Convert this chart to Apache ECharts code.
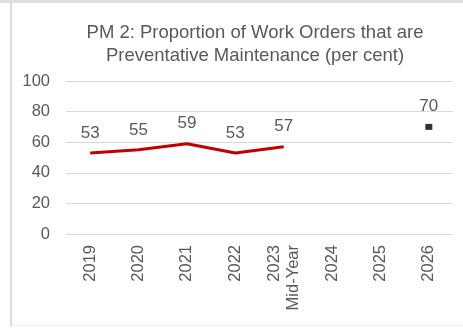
<!DOCTYPE html>
<html>
<head>
<meta charset="utf-8">
<style>
  html, body { margin: 0; padding: 0; background: #fff; }
  #chart { width: 463px; height: 330px; }
</style>
<script src="https://cdn.jsdelivr.net/npm/echarts@6/dist/echarts.min.js"></script>
</head>
<body>
<div id="chart"></div>
<script>
// PM 2 – share of work orders that are preventative maintenance
const categories = ['2019', '2020', '2021', '2022', '2023\nMid-Year', '2024', '2025', '2026'];
const actualValues = [53, 55, 59, 53, 57, null, null, null];
const targetValues = [null, null, null, null, null, null, null, 70];
const yTicks = { min: 0, max: 100, interval: 20 };

const chart = echarts.init(document.getElementById('chart'), null, { renderer: 'canvas' });

const FONT = 'Liberation Sans, Arial, sans-serif';
const labelStyle = {
  show: true,
  position: 'top',
  distance: 11,
  color: '#595959',
  fontFamily: FONT,
  fontSize: 17
};

chart.setOption({
  animation: false,
  backgroundColor: '#fff',
  title: {
    text: 'PM 2: Proportion of Work Orders that are\nPreventative Maintenance (per cent)',
    left: 250,
    top: 16,
    textAlign: 'center',
    textStyle: {
      color: '#595959',
      fontFamily: FONT,
      fontSize: 18.5,
      fontWeight: 'normal',
      lineHeight: 23
    }
  },
  graphic: [
    { type: 'rect', shape: { x: 0, y: 0, width: 463, height: 3 }, style: { fill: '#dedede' }, silent: true },
    { type: 'rect', shape: { x: 10, y: 3, width: 2, height: 323 }, style: { fill: '#dcdcdc' }, silent: true },
    { type: 'rect', shape: { x: 12, y: 325, width: 451, height: 1 }, style: { fill: '#ececec' }, silent: true }
  ],
  grid: { left: 66, right: 10, top: 81, bottom: 96 },
  xAxis: {
    type: 'category',
    data: categories,
    boundaryGap: true,
    axisLine: { show: false },
    axisTick: { show: false },
    axisLabel: {
      rotate: 90,
      margin: 11,
      interval: 0,
      color: '#595959',
      fontFamily: FONT,
      fontSize: 16.5,
      lineHeight: 19
    }
  },
  yAxis: {
    type: 'value',
    min: yTicks.min,
    max: yTicks.max,
    interval: yTicks.interval,
    axisLine: { show: false },
    axisTick: { show: false },
    axisLabel: {
      margin: 16,
      color: '#595959',
      fontFamily: FONT,
      fontSize: 16.5
    },
    splitLine: { lineStyle: { color: '#d9d9d9', width: 1 } }
  },
  series: [
    {
      name: 'Actual',
      type: 'line',
      data: actualValues,
      connectNulls: false,
      symbol: 'circle',
      symbolSize: 1,
      showSymbol: true,
      itemStyle: { color: 'rgba(0,0,0,0)' },
      lineStyle: { color: '#c00000', width: 3 },
      label: labelStyle
    },
    {
      name: 'Target',
      type: 'line',
      data: targetValues,
      symbol: 'rect',
      symbolSize: [7, 6],
      itemStyle: { color: '#333333' },
      lineStyle: { width: 0 },
      label: Object.assign({}, labelStyle, { distance: 9 })
    }
  ]
});
</script>
</body>
</html>
